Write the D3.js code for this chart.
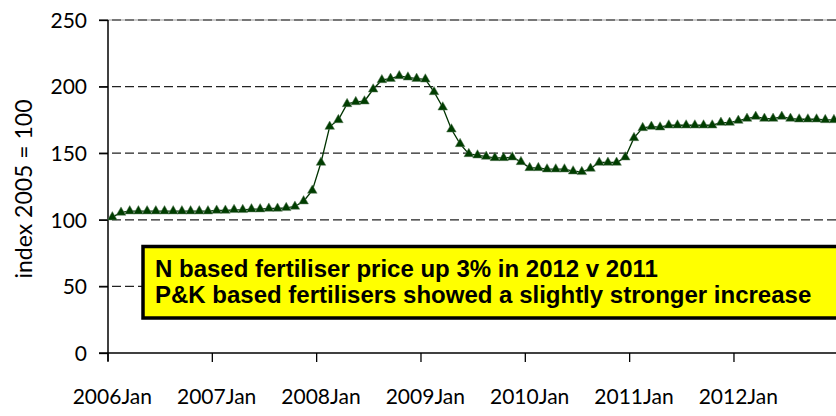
<!DOCTYPE html>
<html><head><meta charset="utf-8">
<script src="https://cdn.jsdelivr.net/npm/d3@7"></script>
<style>html,body{margin:0;padding:0;background:#fff;}svg{display:block;}</style>
</head><body>
<svg id="c" width="836" height="416"></svg>
<script>
const years = [2006, 2007, 2008, 2009, 2010, 2011, 2012];
const monthNames = ["Jan","Feb","Mar","Apr","May","Jun","Jul","Aug","Sep","Oct","Nov","Dec"];
const categories = years.flatMap(y => monthNames.map(m => y + m));
const values = [
  102, 105.5, 106.5, 106.5, 106.5, 106.5, 106.5, 106.5, 106.5, 106.5, 106.5, 106.5,
  107, 107, 107.5, 107.5, 108, 108, 108.5, 108.5, 109, 110, 114, 122,
  143, 170, 175, 187, 188.5, 189, 198, 205, 206, 208, 207, 206,
  205.5, 196, 184.5, 168, 157, 149.5, 148.5, 147.5, 146.5, 146.5, 147, 143.5,
  139, 139, 138, 138, 138, 136.5, 136, 138.5, 143, 143, 143, 147,
  161.5, 169, 170, 169.5, 171, 171, 171, 171, 171, 171, 173, 173,
  174.5, 176, 177.5, 176, 176, 177.5, 176, 175.5, 175.5, 175.5, 175, 175
];
const yTicks = [0, 50, 100, 150, 200, 250];
const xTickLabels = years.map(y => y + "Jan");
const noteLines = ["N based fertiliser price up 3% in 2012 v 2011",
                   "P&K based fertilisers showed a slightly stronger increase"];
const yTitle = "index 2005 = 100";

const svg = d3.select("#c");
const x = d3.scaleBand().domain(categories).range([108, 838.3]).padding(0);
const y = d3.scaleLinear().domain([0, 250]).range([353, 20]);
const axisFont = "Lato, 'Open Sans', sans-serif";

// gridlines
const grid = svg.append("g");
yTicks.filter(t => t > 0).forEach(t => {
  if (t === 250) {
    grid.append("line").attr("x1", 99).attr("x2", 836).attr("y1", y(t)).attr("y2", y(t))
      .attr("stroke", "#999").attr("stroke-width", 1.2);
  }
  grid.append("line").attr("x1", 99).attr("x2", 836).attr("y1", y(t)).attr("y2", y(t))
    .attr("stroke", "#222").attr("stroke-width", 1.2).attr("stroke-dasharray", "9,4");
});

// y axis
const yAxis = svg.append("g").attr("transform", "translate(108,0)")
  .call(d3.axisLeft(y).tickValues(yTicks).tickSize(9).tickPadding(12));
yAxis.select(".domain").remove();
yAxis.selectAll(".tick line").attr("stroke", "#000").attr("stroke-width", 1.3);
yAxis.selectAll("text").attr("font-family", axisFont).attr("font-size", 21)
  .attr("fill", "#000").attr("dy", "0.35em");
svg.append("line").attr("x1", 108).attr("x2", 108).attr("y1", 20).attr("y2", 361)
  .attr("stroke", "#000").attr("stroke-width", 1.5);

// x axis
svg.append("line").attr("x1", 99).attr("x2", 836).attr("y1", 353).attr("y2", 353)
  .attr("stroke", "#000").attr("stroke-width", 1.5);
const xt = svg.append("g");
years.forEach((yr, i) => {
  const cx = x(yr + "Jan");
  xt.append("line").attr("x1", cx).attr("x2", cx).attr("y1", 353).attr("y2", 362)
    .attr("stroke", "#000").attr("stroke-width", 1.3);
  xt.append("text").attr("x", cx + x.bandwidth() / 2).attr("y", 404)
    .attr("text-anchor", "middle").attr("font-family", axisFont).attr("font-size", 21)
    .attr("fill", "#000").text(xTickLabels[i]);
});

// y title
svg.append("text").attr("transform", "translate(32,189) rotate(-90)")
  .attr("text-anchor", "middle").attr("font-family", axisFont).attr("font-size", 23)
  .attr("fill", "#000").text(yTitle);

// line + markers
const cxOf = (d, i) => x(categories[i]) + x.bandwidth() / 2;
svg.append("path").datum(values)
  .attr("d", d3.line().x(cxOf).y(d => y(d)))
  .attr("fill", "none").attr("stroke", "#003300").attr("stroke-width", 1.3);
svg.append("g").selectAll("path").data(values).join("path")
  .attr("transform", (d, i) => `translate(${cxOf(d, i)},${y(d)})`)
  .attr("d", d3.symbol(d3.symbolTriangle, 40))
  .attr("fill", "#003d00").attr("stroke", "#5a7a5a").attr("stroke-width", 0.5);

// note box
svg.append("rect").attr("x", 143).attr("y", 246.5).attr("width", 720).attr("height", 71.5)
  .attr("fill", "#ffff00").attr("stroke", "#000").attr("stroke-width", 3.5);
noteLines.forEach((t, i) => {
  svg.append("text").attr("x", 155).attr("y", 276.5 + i * 26)
    .attr("font-family", "'Liberation Sans', Arial, sans-serif").attr("font-weight", "bold")
    .attr("font-size", 24).attr("fill", "#000").text(t);
});
</script>
</body></html>
